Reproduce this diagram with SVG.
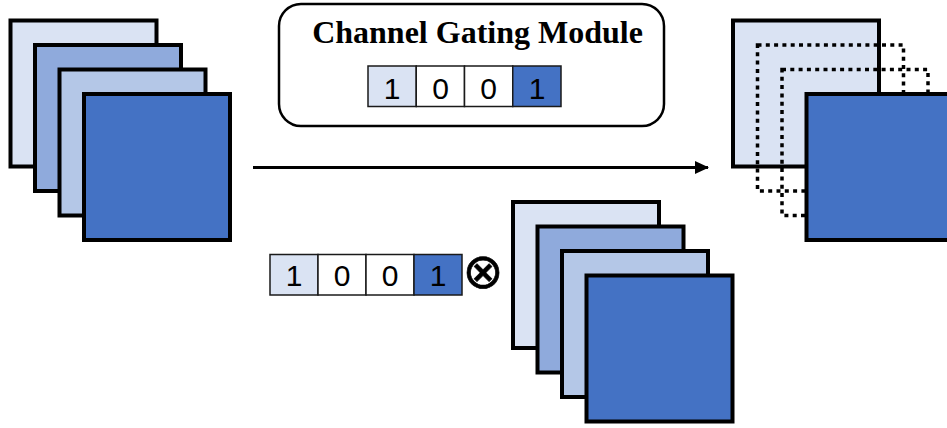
<svg xmlns="http://www.w3.org/2000/svg" width="947" height="428" viewBox="0 0 947 428">
  <defs>
    <style>
      .fm { stroke: #000; stroke-width: 4; }
      .c1 { fill: #DAE3F3; }
      .c2 { fill: #8FAADC; }
      .c3 { fill: #B4C7E7; }
      .c4 { fill: #4472C4; }
      .cw { fill: #FFFFFF; }
      .dot { fill: none; stroke: #000; stroke-width: 3.5; stroke-dasharray: 4 4.3; }
      .cell { stroke: #1a1a1a; stroke-width: 1.5; }
      .dig { font-family: "Liberation Sans", Arial, sans-serif; font-size: 30px; fill: #000; text-anchor: middle; }
      .title { font-family: "Liberation Serif", "Times New Roman", serif; font-weight: bold; font-size: 32px; fill: #000; }
    </style>
    <marker id="arrowhead" markerWidth="14" markerHeight="13" refX="13" refY="6.5" orient="auto" markerUnits="userSpaceOnUse">
      <path d="M0,0 L14,6.5 L0,13 Z" fill="#000"/>
    </marker>
  </defs>
  <rect width="947" height="428" fill="#FFFFFF"/>

  <!-- input feature maps -->
  <g id="input-maps">
    <rect class="fm c1" x="10.5" y="20.5" width="146" height="146"/>
    <rect class="fm c2" x="35" y="45" width="146" height="146"/>
    <rect class="fm c3" x="59.5" y="69.5" width="146" height="146"/>
    <rect class="fm c4" x="84" y="94" width="146" height="146"/>
  </g>

  <!-- gating module with its mask -->
  <g id="gating-module">
    <rect x="279" y="4" width="385" height="122" rx="22" ry="22" fill="#FFFFFF" stroke="#000" stroke-width="2.5"/>
    <text class="title" x="477.5" y="43" text-anchor="middle">Channel Gating Module</text>
    <rect class="cell c1" x="368" y="66" width="48.25" height="40.5"/>
    <rect class="cell cw" x="416.25" y="66" width="48.25" height="40.5"/>
    <rect class="cell cw" x="464.5" y="66" width="48.25" height="40.5"/>
    <rect class="cell c4" x="512.75" y="66" width="48.25" height="40.5"/>
    <text class="dig" x="392" y="99">1</text>
    <text class="dig" x="440.5" y="99">0</text>
    <text class="dig" x="488.5" y="99">0</text>
    <text class="dig" x="537" y="99">1</text>
  </g>

  <!-- gated output maps -->
  <g id="output-maps">
    <rect class="fm c1" x="733" y="20.5" width="146" height="146"/>
    <rect class="dot" x="757.5" y="45" width="146" height="146"/>
    <rect class="dot" x="782" y="69.5" width="146" height="146"/>
    <rect class="fm c4" x="806.5" y="94" width="146" height="146"/>
  </g>

  <!-- mask applied to maps -->
  <g id="mask-vector">
    <rect class="cell c1" x="270" y="254.5" width="48" height="40.5"/>
    <rect class="cell cw" x="318" y="254.5" width="48" height="40.5"/>
    <rect class="cell cw" x="366" y="254.5" width="48" height="40.5"/>
    <rect class="cell c4" x="414" y="254.5" width="48" height="40.5"/>
    <text class="dig" x="294" y="286">1</text>
    <text class="dig" x="342" y="286">0</text>
    <text class="dig" x="390" y="286">0</text>
    <text class="dig" x="438" y="286">1</text>
  </g>

  <g id="multiply">
    <text x="483" y="288" font-family="DejaVu Sans, sans-serif" font-size="49" text-anchor="middle" fill="#000" stroke="#000" stroke-width="0.6">⊗</text>
  </g>

  <g id="mask-maps">
    <rect class="fm c1" x="513" y="202" width="146" height="146"/>
    <rect class="fm c2" x="537.5" y="226.5" width="146" height="146"/>
    <rect class="fm c3" x="562" y="251" width="146" height="146"/>
    <rect class="fm c4" x="586.5" y="275.5" width="146" height="146"/>
  </g>

  <!-- connectors -->
  <g id="connectors">
    <line x1="253" y1="167.5" x2="708" y2="167.5" stroke="#000" stroke-width="3" marker-end="url(#arrowhead)"/>
  </g>
</svg>
